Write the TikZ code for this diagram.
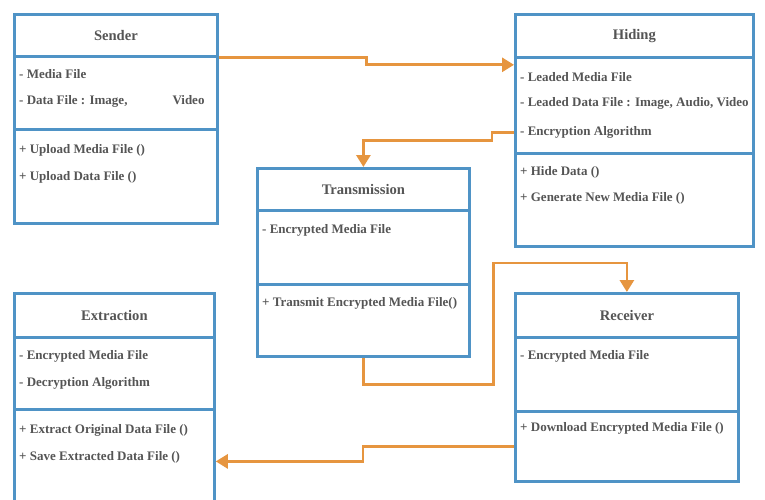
\documentclass[tikz,border=0pt]{standalone}
\usepackage{fontspec}
\setmainfont{Liberation Serif}
\usetikzlibrary{arrows.meta,calc}
\definecolor{boxblue}{HTML}{4F93C6}
\definecolor{linkorange}{HTML}{E6953F}
\definecolor{txtgray}{HTML}{555555}
\begin{document}
\begin{tikzpicture}[x=1pt,y=-1pt,
  box/.style={draw=boxblue, line width=2.8pt, rectangle, inner sep=0pt, anchor=north west},
  title/.style={font=\bfseries\fontsize{14.6}{16}\selectfont, text=txtgray, inner sep=0pt},
  item/.style={font=\bfseries\fontsize{13}{15}\selectfont, text=txtgray, anchor=west, inner sep=0pt},
  link/.style={draw=linkorange, line width=2.8pt, line join=miter},
  tip/.style={-{Triangle[length=12pt,width=14pt]}}]
\useasboundingbox (0,0) rectangle (765,499);
\fill[white] (0,0) rectangle (765,499);

% Sender
\node[box, minimum width=203pt, minimum height=42pt] (snd-t) at (13,13) {};
\node[box, minimum width=203pt, minimum height=73pt] (snd-a) at (13,55) {};
\node[box, minimum width=203pt, minimum height=94pt] (snd-m) at (13,128) {};
\node[title] (snd-name) at (snd-t.center) {Sender};
\node[item] (snd-a1) at (19,74) {- Media File};
\node[item] (snd-a2) at (19,101) {- Data File : Image,\hspace{45pt}Video};
\node[item] (snd-m1) at (19,150) {+ Upload Media File ()};
\node[item] (snd-m2) at (19,177) {+ Upload Data File ()};

% Hiding
\node[box, minimum width=238pt, minimum height=43pt] (hid-t) at (514,13) {};
\node[box, minimum width=238pt, minimum height=96pt] (hid-a) at (514,56) {};
\node[box, minimum width=238pt, minimum height=93pt] (hid-m) at (514,152) {};
\node[title] (hid-name) at (hid-t.center) {Hiding};
\node[item] (hid-a1) at (520,77) {- Leaded Media File};
\node[item] (hid-a2) at (520,103) {- Leaded Data File : Image, Audio, Video};
\node[item] (hid-a3) at (520,132) {- Encryption Algorithm};
\node[item] (hid-m1) at (520,172) {+ Hide Data ()};
\node[item] (hid-m2) at (520,198) {+ Generate New Media File ()};

% Transmission
\node[box, minimum width=212pt, minimum height=42pt] (tra-t) at (256,167) {};
\node[box, minimum width=212pt, minimum height=74pt] (tra-a) at (256,209) {};
\node[box, minimum width=212pt, minimum height=72pt] (tra-m) at (256,283) {};
\node[title] (tra-name) at (tra-t.center) {Transmission};
\node[item] (tra-a1) at (262,230) {- Encrypted Media File};
\node[item] (tra-m1) at (262,303) {+ Transmit Encrypted Media File()};

% Extraction
\node[box, minimum width=200pt, minimum height=44pt] (ext-t) at (13,292) {};
\node[box, minimum width=200pt, minimum height=72pt] (ext-a) at (13,336) {};
\node[box, minimum width=200pt, minimum height=112pt] (ext-m) at (13,408) {};
\node[title] (ext-name) at (ext-t.center) {Extraction};
\node[item] (ext-a1) at (19,356) {- Encrypted Media File};
\node[item] (ext-a2) at (19,383) {- Decryption Algorithm};
\node[item] (ext-m1) at (19,430) {+ Extract Original Data File ()};
\node[item] (ext-m2) at (19,457) {+ Save Extracted Data File ()};

% Receiver
\node[box, minimum width=223pt, minimum height=44pt] (rcv-t) at (514,292) {};
\node[box, minimum width=223pt, minimum height=74pt] (rcv-a) at (514,336) {};
\node[box, minimum width=223pt, minimum height=70pt] (rcv-m) at (514,410) {};
\node[title] (rcv-name) at (rcv-t.center) {Receiver};
\node[item] (rcv-a1) at (520,356) {- Encrypted Media File};
\node[item] (rcv-m1) at (520,428) {+ Download Encrypted Media File ()};

% Connectors
\draw[link,tip] (snd-t.south east) -- ++(148,0) -- ++(0,7) coordinate (j1)
  -- (j1 -| hid-a.west);
\draw[link,tip] ($(hid-a.south west)+(0,-22)$) -- ++(-22,0) -- ++(0,8) coordinate (j2)
  -- (j2 -| tra-t.north) -- (tra-t.north);
\draw[link,tip] (tra-m.south) -- ++(0,27) -- ++(130,0) |- ($(rcv-t.north)+(0,-29)$)
  -- (rcv-t.north);
\draw[link,tip] (rcv-m.west) -- ++(-151,0) -- ++(0,15) coordinate (j4)
  -- (j4 -| ext-m.east);
\end{tikzpicture}
\end{document}
